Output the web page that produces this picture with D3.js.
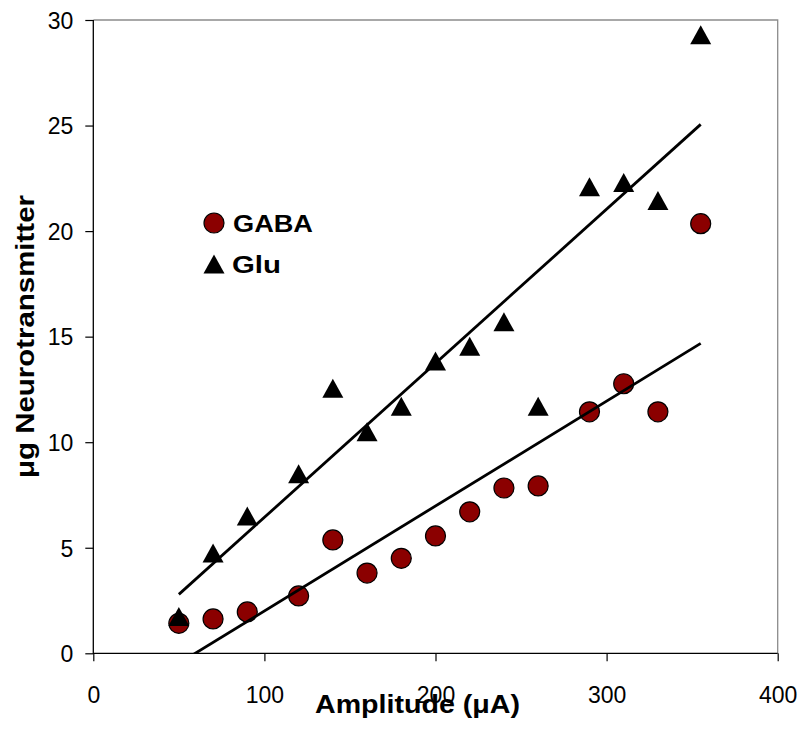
<!DOCTYPE html>
<html>
<head>
<meta charset="utf-8">
<script src="https://cdn.jsdelivr.net/npm/d3@7"></script>
<style>
  body { margin: 0; background: #fff; }
  text { font-family: "Liberation Sans", Arial, sans-serif; }
</style>
</head>
<body>
<script>
var amplitude = [50, 70, 90, 120, 140, 160, 180, 200, 220, 240, 260, 290, 310, 330, 355];
var gaba = [1.42, 1.63, 1.96, 2.72, 5.37, 3.8, 4.5, 5.56, 6.7, 7.83, 7.93, 11.44, 12.77, 11.44, 20.35];
var glu = [1.74, 4.75, 6.5, 8.5, 12.55, 10.5, 11.7, 13.85, 14.55, 15.7, 11.7, 22.1, 22.3, 21.45, 29.3];
var xTicks = [0, 100, 200, 300, 400];
var yTicks = [0, 5, 10, 15, 20, 25, 30];

var w = 802;
var h = 732;
var padL = 93.3, padR = 777.7, padT = 20, padB = 653.3;

var svg = d3.select('body').append('svg')
            .attr('width', w)
            .attr('height', h);

var ScaleX = d3.scaleLinear().domain([0, 400]).range([padL, padR]);
var ScaleY = d3.scaleLinear().domain([0, 30]).range([padB, padT]);

// least squares fit, same as the spreadsheet trendline
function fit(xs, ys){
  var mx = d3.mean(xs), my = d3.mean(ys);
  var sxy = d3.sum(xs, function(x, i){ return (x - mx) * (ys[i] - my); });
  var sxx = d3.sum(xs, function(x){ return (x - mx) * (x - mx); });
  var b = sxy / sxx;
  return { b: b, a: my - b * mx };
}

svg.append('clipPath').attr('id', 'plot')
   .append('rect')
   .attr('x', padL).attr('y', padT)
   .attr('width', padR - padL).attr('height', padB - padT);

// frame: top and right grey
svg.append('path')
   .attr('d', 'M' + padL + ',' + padT + 'H' + padR + 'V' + padB)
   .attr('fill', 'none')
   .attr('stroke', '#8c8c8c')
   .attr('stroke-width', 1.3);

var xAxis = d3.axisBottom(ScaleX).tickValues(xTicks).tickSize(8).tickSizeOuter(0).tickPadding(25);
var yAxis = d3.axisLeft(ScaleY).tickValues(yTicks).tickSize(8).tickSizeOuter(0).tickPadding(12);

var gx = svg.append('g')
   .attr('transform', 'translate(0,' + padB + ')')
   .call(xAxis);
var gy = svg.append('g')
   .attr('transform', 'translate(' + padL + ',0)')
   .call(yAxis);

[gx, gy].forEach(function(g){
  g.select('.domain').remove();
  g.selectAll('line').attr('stroke', '#000').attr('stroke-width', 1.2);
  g.selectAll('text')
   .attr('fill', '#000')
   .style('font-size', '23px')
   .style('font-family', '"Liberation Sans", Arial, sans-serif');
});
gy.selectAll('text').attr('dy', '0.36em');

// left and bottom axis lines in black
svg.append('path')
   .attr('d', 'M' + padL + ',' + padT + 'V' + padB + 'H' + padR)
   .attr('fill', 'none')
   .attr('stroke', '#000')
   .attr('stroke-width', 1.3);

var plot = svg.append('g');

plot.selectAll('circle')
    .data(amplitude)
    .enter()
    .append('circle')
    .attr('cx', function(d){ return ScaleX(d); })
    .attr('cy', function(d, i){ return ScaleY(gaba[i]); })
    .attr('r', 10)
    .attr('fill', '#8b0000')
    .attr('stroke', '#000')
    .attr('stroke-width', 1.2);

function tri(cx, cy){
  return 'M' + cx + ',' + (cy - 9.5) + 'L' + (cx + 10.5) + ',' + (cy + 9.5) +
         'L' + (cx - 10.5) + ',' + (cy + 9.5) + 'Z';
}

plot.selectAll('path.glu')
    .data(amplitude)
    .enter()
    .append('path')
    .attr('class', 'glu')
    .attr('d', function(d, i){ return tri(ScaleX(d), ScaleY(glu[i])); })
    .attr('fill', '#000');

[gaba, glu].forEach(function(ys){
  var f = fit(amplitude, ys);
  var x0 = d3.min(amplitude), x1 = d3.max(amplitude);
  svg.append('line')
     .attr('clip-path', 'url(#plot)')
     .attr('x1', ScaleX(x0)).attr('y1', ScaleY(f.a + f.b * x0))
     .attr('x2', ScaleX(x1)).attr('y2', ScaleY(f.a + f.b * x1))
     .attr('stroke', '#000')
     .attr('stroke-width', 2.8);
});

// legend
svg.append('circle')
   .attr('cx', 214).attr('cy', 223).attr('r', 10)
   .attr('fill', '#8b0000').attr('stroke', '#000').attr('stroke-width', 1.2);
svg.append('path').attr('d', tri(214, 264)).attr('fill', '#000');

svg.append('text')
   .attr('x', 233).attr('y', 232)
   .attr('textLength', 80).attr('lengthAdjust', 'spacingAndGlyphs')
   .style('font-size', '24px').style('font-weight', 'bold')
   .text('GABA');
svg.append('text')
   .attr('x', 232).attr('y', 273)
   .attr('textLength', 49).attr('lengthAdjust', 'spacingAndGlyphs')
   .style('font-size', '24px').style('font-weight', 'bold')
   .text('Glu');

// axis titles
svg.append('text')
   .attr('x', 315).attr('y', 713)
   .attr('textLength', 205).attr('lengthAdjust', 'spacingAndGlyphs')
   .style('font-size', '25px').style('font-weight', 'bold')
   .text('Amplitude (μA)');

svg.append('text')
   .attr('transform', 'translate(34,478) rotate(-90)')
   .attr('textLength', 283).attr('lengthAdjust', 'spacingAndGlyphs')
   .style('font-size', '25px').style('font-weight', 'bold')
   .text('μg Neurotransmitter');
</script>
</body>
</html>
